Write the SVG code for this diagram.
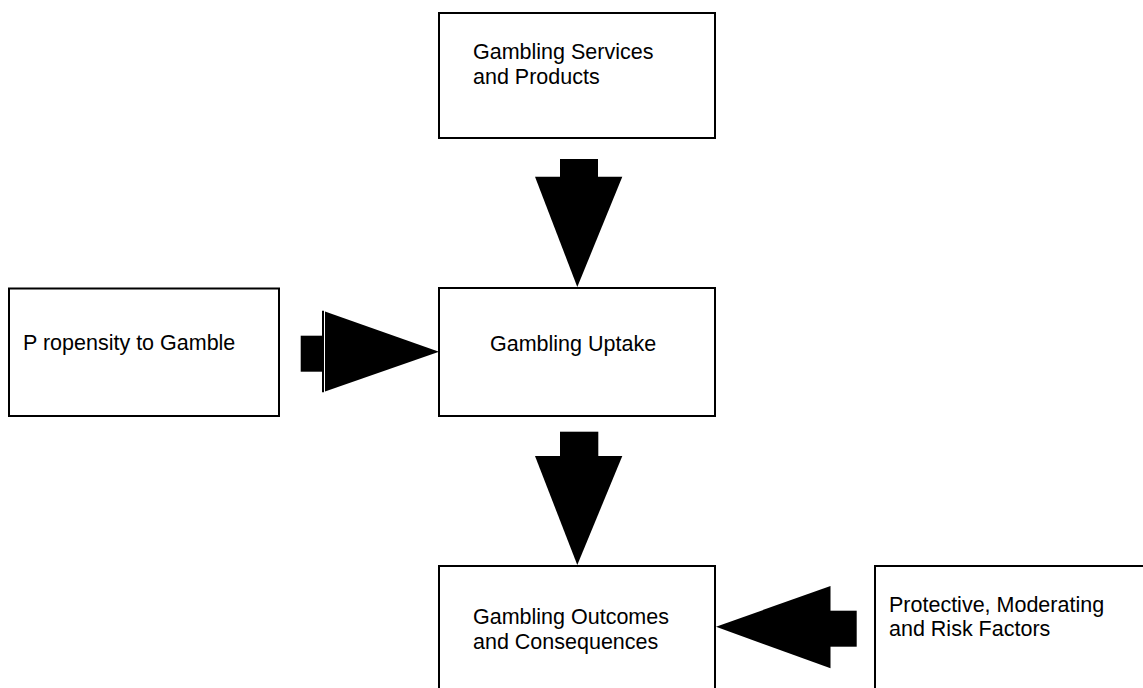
<svg xmlns="http://www.w3.org/2000/svg" width="1143" height="688" viewBox="0 0 1143 688">
<style>
.box{fill:#fff;stroke:#000;stroke-width:2}
.lbl{font-family:"Liberation Sans",Arial,sans-serif;font-size:21.5px;fill:#000}
.arr{fill:#000;stroke:none}
</style>
<rect width="1143" height="688" fill="#fff"/>
<g id="services">
<rect class="box" x="439" y="13" width="276" height="125"/>
<text class="lbl" x="473" y="59">Gambling Services</text>
<text class="lbl" x="473" y="84">and Products</text>
</g>
<g id="propensity">
<rect class="box" x="9" y="288.5" width="270" height="127.5"/>
<text class="lbl" x="23" y="350">P ropensity to Gamble</text>
</g>
<g id="uptake">
<rect class="box" x="439" y="288" width="276" height="128"/>
<text class="lbl" x="490" y="351">Gambling Uptake</text>
</g>
<g id="outcomes">
<rect class="box" x="439" y="566" width="276" height="140"/>
<text class="lbl" x="473" y="624">Gambling Outcomes</text>
<text class="lbl" x="473" y="649">and Consequences</text>
</g>
<g id="factors">
<rect class="box" x="875" y="566" width="290" height="140"/>
<text class="lbl" x="889" y="611.5">Protective, Moderating</text>
<text class="lbl" x="889" y="636">and Risk Factors</text>
</g>
<g id="connectors">
<g id="a-services-uptake">
<rect class="arr" x="560" y="159" width="38" height="19"/>
<polygon class="arr" points="535,176.7 622.3,176.7 577.3,287"/>
</g>
<g id="a-propensity-uptake">
<rect class="arr" x="300.7" y="335.7" width="22" height="36"/>
<line x1="323" y1="310.7" x2="323" y2="392.3" stroke="#000" stroke-width="2"/>
<polygon class="arr" points="325,311.5 325,391.5 439,351.7"/>
</g>
<g id="a-uptake-outcomes">
<rect class="arr" x="560" y="431.7" width="38.3" height="25"/>
<polygon class="arr" points="535,456 622.3,456 577.3,565"/>
</g>
<g id="a-factors-outcomes">
<rect class="arr" x="830" y="610.7" width="26.7" height="36"/>
<polygon class="arr" points="830.5,586 830.5,668.3 716,626.7"/>
</g>
</g>
</svg>
